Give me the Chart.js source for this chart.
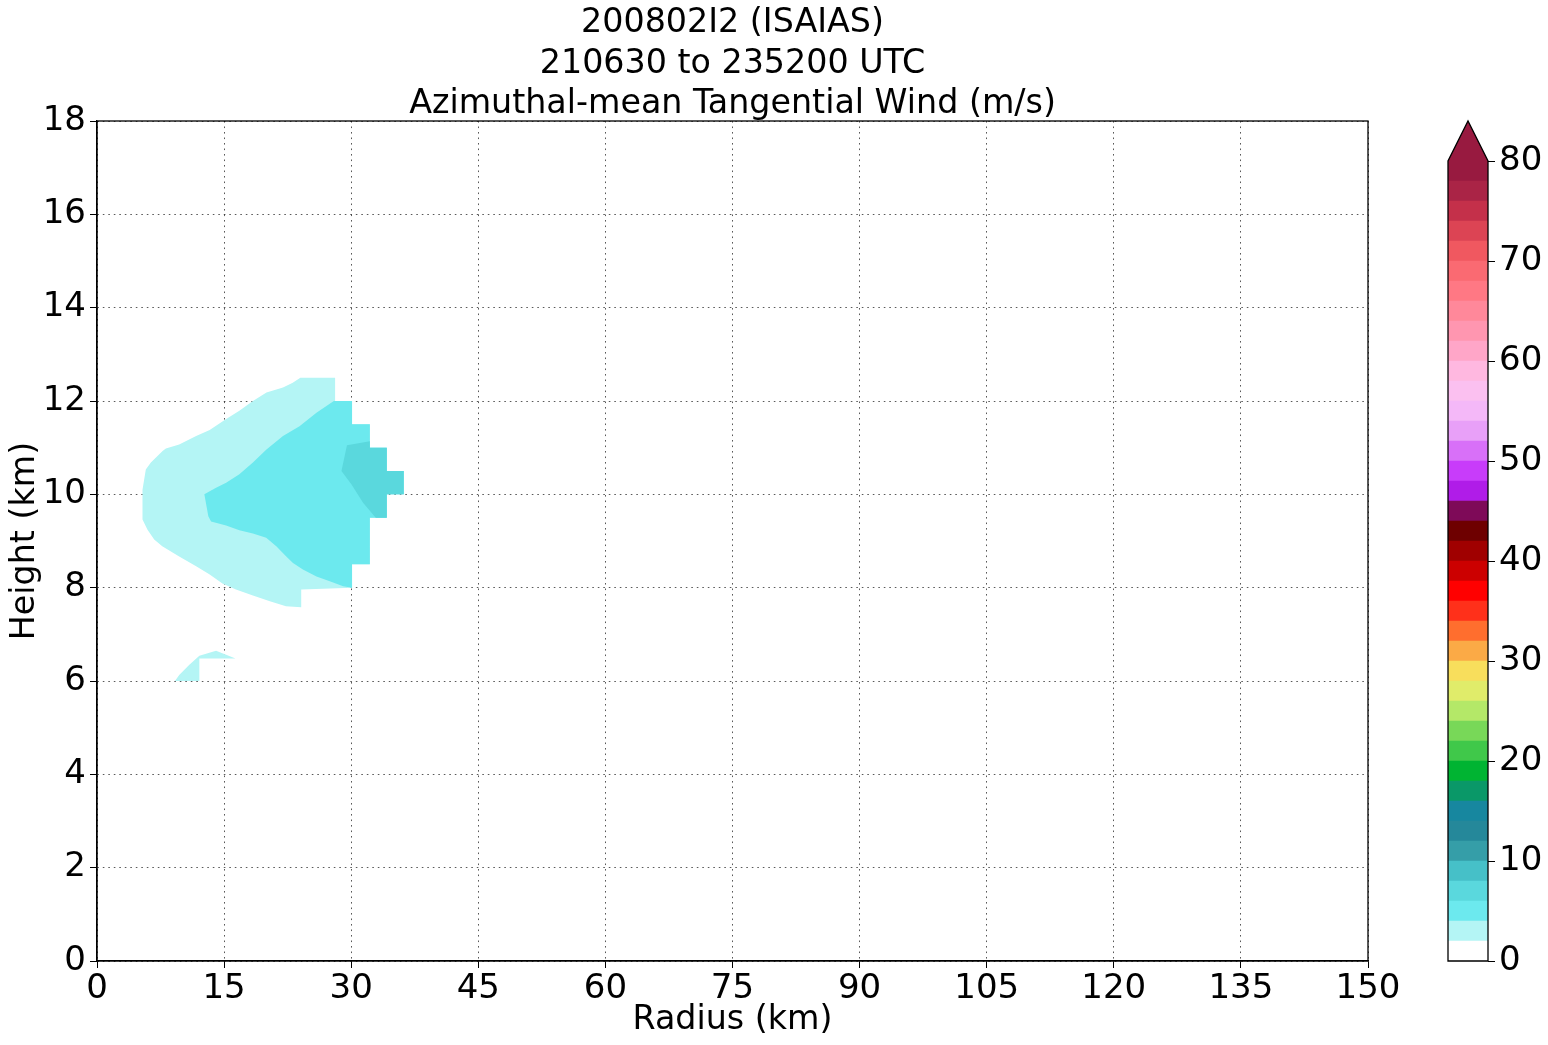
<!DOCTYPE html>
<html>
<head>
<meta charset="utf-8">
<script src="https://cdn.jsdelivr.net/npm/chart.js@4/dist/chart.umd.min.js"></script>
<style>
  html, body { margin: 0; padding: 0; background: #fff; }
  #wrap { position: relative; width: 1548px; height: 1045px; }
  #main { position: absolute; left: 0; top: 0; }
  #cbar { position: absolute; left: 1440px; top: 110px; }
</style>
</head>
<body>
<div id="wrap">
  <canvas id="main" width="1548" height="1045"></canvas>
  <canvas id="cbar" width="108" height="900"></canvas>
</div>
<script>
/* global Chart */

// Contour levels (m/s) and the colour of each band between them
const levels = [0, 2, 4, 6, 8, 10, 12, 14, 16, 18, 20, 22, 24, 26, 28, 30, 32, 34, 36, 38, 40,
  42, 44, 46, 48, 50, 52, 54, 56, 58, 60, 62, 64, 66, 68, 70, 72, 74, 76, 78, 80];
const bandColors = [
  '#ffffff', '#b4f5f5', '#6ce9ee', '#5ad8dd', '#46c0c8', '#359ea8', '#25889a', '#17879f',
  '#0a9868', '#00b432', '#40c84a', '#78d858', '#b4e868', '#e0ec6a', '#f8de5c', '#fbaa46',
  '#ff6e2e', '#ff301a', '#ff0000', '#cc0000', '#a00000', '#6e0000', '#7e0a58', '#b01ce8',
  '#c83cfa', '#d870f8', '#e8a0f8', '#f4b8f8', '#fbc0f0', '#ffb8e0', '#ffa6c8', '#ff96b0',
  '#ff889a', '#ff7884', '#fa6a72', '#f05860', '#dc4454', '#c4304a', '#aa2446', '#981a40'
];
const extendColor = '#981a40';
const cbarTicks = [0, 10, 20, 30, 40, 50, 60, 70, 80];

// Axis ticks
const radiusTicks = [0, 15, 30, 45, 60, 75, 90, 105, 120, 135, 150];
const heightTicks = [0, 2, 4, 6, 8, 10, 12, 14, 16, 18];

// Filled contour outlines, [radius km, height km]
// >= 2 m/s, main region
const band2Main = [
  [24.0, 12.5], [28.1, 12.5], [28.1, 12.0], [30.1, 12.0], [30.1, 11.5], [32.2, 11.5],
  [32.2, 11.0], [34.2, 11.0], [34.2, 10.5], [36.2, 10.5], [36.2, 10.0], [34.2, 10.0],
  [34.2, 9.5], [32.2, 9.5], [32.2, 8.5], [30.1, 8.5], [30.1, 8.0], [24.1, 7.96],
  [24.1, 7.58], [22.3, 7.6], [20.4, 7.71], [18.4, 7.83], [16.4, 7.96], [14.8, 8.09],
  [13.3, 8.28], [11.7, 8.46], [9.7, 8.67], [7.7, 8.89], [6.75, 9.03], [5.96, 9.24],
  [5.37, 9.46], [5.37, 10.1], [5.76, 10.53], [6.36, 10.68], [7.74, 10.93], [8.13, 10.98],
  [9.7, 11.07], [11.7, 11.25], [13.3, 11.38], [15.2, 11.61], [16.8, 11.79], [18.4, 12.0],
  [20.0, 12.18], [21.95, 12.29], [23.1, 12.39]
];
// >= 2 m/s, small patch near 6 km
const band2Low = [
  [9.2, 6.0], [9.7, 6.13], [10.9, 6.35], [12.08, 6.54], [14.05, 6.65], [15.24, 6.56],
  [16.34, 6.48], [12.08, 6.48], [12.08, 6.0]
];
// >= 4 m/s
const band4 = [
  [27.95, 12.0], [30.1, 12.0], [30.1, 11.5], [32.2, 11.5], [32.2, 11.0], [34.2, 11.0],
  [34.2, 10.5], [36.2, 10.5], [36.2, 10.0], [34.2, 10.0], [34.2, 9.5], [32.2, 9.5],
  [32.2, 8.5], [30.1, 8.5], [30.1, 8.0], [29.05, 8.03], [27.47, 8.14], [25.9, 8.24],
  [24.3, 8.39], [23.13, 8.53], [22.34, 8.67], [21.16, 8.89], [19.97, 9.07], [18.4, 9.16],
  [16.8, 9.23], [15.24, 9.33], [13.46, 9.42], [13.14, 9.53], [12.67, 10.0], [14.05, 10.14],
  [15.24, 10.25], [16.8, 10.43], [18.4, 10.68], [20.0, 10.96], [21.95, 11.25], [23.9, 11.46],
  [25.9, 11.75]
];
// >= 6 m/s
const band6 = [
  [29.5, 11.05], [32.2, 11.14], [32.2, 11.0], [34.2, 11.0], [34.2, 10.5], [36.2, 10.5],
  [36.2, 10.0], [34.2, 10.0], [34.2, 9.5], [32.9, 9.5], [31.4, 9.82], [30.04, 10.21],
  [28.85, 10.5]
];

const FONT = 'DejaVu Sans';
const TICK_SIZE = 34;
const LABEL_SIZE = 33.3;
const toXY = (arr) => arr.map(([x, y]) => ({ x, y }));

// Fills every dataset's points as a closed polygon, using the positions the scales gave them
const polygonFill = {
  id: 'polygonFill',
  afterDatasetsDraw(chart) {
    const { ctx, chartArea } = chart;
    ctx.save();
    ctx.beginPath();
    ctx.rect(chartArea.left, chartArea.top, chartArea.right - chartArea.left, chartArea.bottom - chartArea.top);
    ctx.clip();
    chart.data.datasets.forEach((ds, i) => {
      const pts = chart.getDatasetMeta(i).data;
      if (!pts.length) return;
      ctx.beginPath();
      ctx.moveTo(pts[0].x, pts[0].y);
      for (let k = 1; k < pts.length; k++) ctx.lineTo(pts[k].x, pts[k].y);
      ctx.closePath();
      ctx.fillStyle = ds.fillColor;
      ctx.fill();
    });
    ctx.restore();
  }
};

// Top and right spines
const frame = {
  id: 'frame',
  afterDraw(chart) {
    const { ctx, chartArea: a } = chart;
    ctx.save();
    ctx.strokeStyle = '#000';
    ctx.lineWidth = 1.3;
    ctx.strokeRect(a.left, a.top, a.right - a.left, a.bottom - a.top);
    ctx.restore();
  }
};

const contour = (data, color) => ({
  data: toXY(data),
  fillColor: color,
  showLine: false,
  pointRadius: 0,
  pointHoverRadius: 0
});

new Chart(document.getElementById('main'), {
  type: 'scatter',
  data: {
    datasets: [
      contour(band2Main, bandColors[1]),
      contour(band2Low, bandColors[1]),
      contour(band4, bandColors[2]),
      contour(band6, bandColors[3])
    ]
  },
  options: {
    responsive: false,
    animation: false,
    events: [],
    layout: { padding: { left: 0, right: 180, top: 0, bottom: 0 } },
    plugins: {
      legend: { display: false },
      tooltip: { enabled: false },
      title: {
        display: true,
        fullSize: false,
        text: ['200802I2 (ISAIAS)', '210630 to 235200 UTC', 'Azimuthal-mean Tangential Wind (m/s)'],
        color: '#000',
        font: { family: FONT, size: LABEL_SIZE, weight: 'normal', lineHeight: '40.5px' },
        padding: { top: 3.5, bottom: -4 }
      }
    },
    scales: {
      x: {
        type: 'linear',
        min: 0,
        max: 150,
        z: 1,
        afterBuildTicks: (s) => { s.ticks = radiusTicks.map(v => ({ value: v })); },
        afterFit: (s) => { s.height = 84; },
        ticks: { color: '#000', font: { family: FONT, size: TICK_SIZE, lineHeight: 1 }, padding: 4, maxRotation: 0 },
        grid: { color: 'rgba(0,0,0,0.65)', lineWidth: 1, tickLength: 7, tickColor: '#000', tickBorderDash: [] },
        border: { display: true, color: '#000', width: 1.3, dash: [1.6, 3.9] },
        title: {
          display: true,
          text: 'Radius (km)',
          color: '#000',
          font: { family: FONT, size: LABEL_SIZE, lineHeight: '40px' },
          padding: { top: 0, bottom: 5 }
        }
      },
      y: {
        type: 'linear',
        min: 0,
        max: 18,
        z: 1,
        afterBuildTicks: (s) => { s.ticks = heightTicks.map(v => ({ value: v })); },
        afterFit: (s) => { s.width = 97; },
        ticks: { color: '#000', font: { family: FONT, size: TICK_SIZE }, padding: 4 },
        grid: { color: 'rgba(0,0,0,0.65)', lineWidth: 1, tickLength: 7, tickColor: '#000', tickBorderDash: [] },
        border: { display: true, color: '#000', width: 1.3, dash: [1.6, 3.9] },
        title: {
          display: true,
          text: 'Height (km)',
          color: '#000',
          font: { family: FONT, size: LABEL_SIZE, lineHeight: '40px' },
          padding: { top: 5, bottom: 0 }
        }
      }
    }
  },
  plugins: [polygonFill, frame]
});

// Colour bar: one stacked bar, a segment per contour band
const cbarOutline = {
  id: 'cbarOutline',
  afterDatasetsDraw(chart) {
    const { ctx, chartArea: a } = chart;
    const mid = (a.left + a.right) / 2;
    ctx.save();
    ctx.beginPath();
    ctx.moveTo(a.left, a.top);
    ctx.lineTo(mid, a.top - 40);
    ctx.lineTo(a.right, a.top);
    ctx.closePath();
    ctx.fillStyle = extendColor;
    ctx.fill();
    ctx.beginPath();
    ctx.moveTo(a.left, a.bottom);
    ctx.lineTo(a.left, a.top);
    ctx.lineTo(mid, a.top - 40);
    ctx.lineTo(a.right, a.top);
    ctx.lineTo(a.right, a.bottom);
    ctx.closePath();
    ctx.strokeStyle = '#000';
    ctx.lineWidth = 1.3;
    ctx.stroke();
    ctx.restore();
  }
};

new Chart(document.getElementById('cbar'), {
  type: 'bar',
  data: {
    labels: [''],
    datasets: bandColors.map((c, i) => ({
      data: [levels[i + 1] - levels[i]],
      backgroundColor: c,
      borderWidth: 0,
      barPercentage: 1,
      categoryPercentage: 1
    }))
  },
  options: {
    responsive: false,
    animation: false,
    events: [],
    layout: { padding: { left: 8, right: 0, top: 51, bottom: 49 } },
    plugins: { legend: { display: false }, tooltip: { enabled: false } },
    scales: {
      x: { stacked: true, display: false },
      y: {
        stacked: true,
        position: 'right',
        min: 0,
        max: 80,
        afterBuildTicks: (s) => { s.ticks = cbarTicks.map(v => ({ value: v })); },
        afterFit: (s) => { s.width = 60; },
        ticks: { color: '#000', font: { family: FONT, size: TICK_SIZE }, padding: 4 },
        grid: { drawOnChartArea: false, tickLength: 7, color: '#000' },
        border: { display: false }
      }
    }
  },
  plugins: [cbarOutline]
});
</script>
</body>
</html>
